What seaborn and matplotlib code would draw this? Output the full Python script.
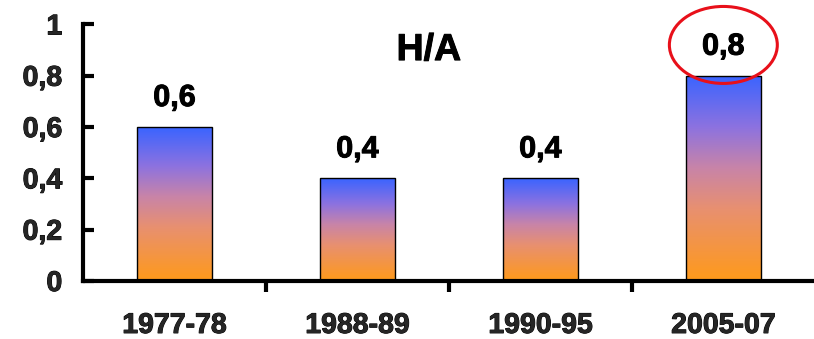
import numpy as np
import pandas as pd
import matplotlib
matplotlib.use("Agg")
import matplotlib.pyplot as plt
import matplotlib.patheffects as pe
from matplotlib.colors import LinearSegmentedColormap
from matplotlib.patches import Ellipse
import seaborn as sns

periods = ["1977-78", "1988-89", "1990-95", "2005-07"]
ratio = [0.6, 0.4, 0.4, 0.8]
value_labels = ["0,6", "0,4", "0,4", "0,8"]
y_ticks = [0, 0.2, 0.4, 0.6, 0.8, 1.0]
y_tick_labels = ["0", "0,2", "0,4", "0,6", "0,8", "1"]
title = "H/A"
highlight = "2005-07"

sns.set_theme(style="white")
plt.rcParams["font.family"] = ["Liberation Sans", "DejaVu Sans"]

df = pd.DataFrame({"period": periods, "ratio": ratio})

fig = plt.figure(figsize=(8.14, 3.39), dpi=100)
ax = fig.add_axes([0.102, 0.171, 0.899, 0.757])

sns.barplot(data=df, x="period", y="ratio", ax=ax, width=0.41,
            color="white", edgecolor="black", linewidth=1.0, saturation=1)

# vertical orange -> purple -> blue gradient inside each bar
grad = LinearSegmentedColormap.from_list(
    "bar_grad",
    [(0.0, "#ff9a1a"), (0.35, "#e89070"), (0.55, "#c884a8"),
     (0.75, "#8c72e0"), (1.0, "#3a64ff")])
ramp = np.linspace(0, 1, 256).reshape(-1, 1)
for patch in ax.patches:
    x0, y0 = patch.get_x(), patch.get_y()
    w, h = patch.get_width(), patch.get_height()
    im = ax.imshow(ramp, cmap=grad, origin="lower", aspect="auto",
                   extent=[x0, x0 + w, y0, y0 + h], zorder=patch.get_zorder() - 0.1,
                   interpolation="bilinear")
    im.set_clip_path(patch)
    patch.set_facecolor("none")
    patch.set_zorder(3)

ax.set_xlim(-0.5, 3.5)
ax.set_ylim(0, 1)

# slightly heavier strokes for all labels
heavy = [pe.withStroke(linewidth=0.7, foreground="black")]

# value labels above bars
for i, (v, lab) in enumerate(zip(ratio, value_labels)):
    ax.text(i, v + 0.113, lab, ha="center", va="center",
            fontsize=22, fontweight="bold", color="black", path_effects=heavy)

# red ring around the latest value
hi = periods.index(highlight)
ax.add_patch(Ellipse((hi, ratio[hi] + 0.12), width=0.59, height=0.30,
                     fill=False, edgecolor="#e8101a", linewidth=2.2,
                     clip_on=False, zorder=5))

ax.text(1.39, 0.9, title, ha="center", va="center",
        fontsize=27, fontweight="bold", color="black", path_effects=heavy)

ax.set_yticks(y_ticks)
ax.set_yticklabels(y_tick_labels)
ax.set_xticks(range(len(periods)))
ax.set_xticklabels(periods)
ax.set_xlabel("")
ax.set_ylabel("")

for side in ["top", "right"]:
    ax.spines[side].set_visible(False)
for side in ["left", "bottom"]:
    ax.spines[side].set_color("black")
    ax.spines[side].set_linewidth(3)
    ax.spines[side].set_zorder(4)

ax.tick_params(axis="y", direction="in", length=8, width=3, color="black",
               labelsize=20.5, pad=15, left=True)
# category labels without ticks; boundary ticks drawn as minor ticks
ax.tick_params(axis="x", which="major", length=0, labelsize=20.5, pad=23)
for lab in ax.get_yticklabels() + ax.get_xticklabels():
    lab.set_fontweight("bold")
    lab.set_path_effects(heavy)
ax.set_xticks([0.5, 1.5, 2.5], minor=True)
ax.tick_params(axis="x", which="minor", direction="out", length=8, width=3,
               color="black", bottom=True)

fig.savefig("out.png", dpi=100, facecolor="white")
